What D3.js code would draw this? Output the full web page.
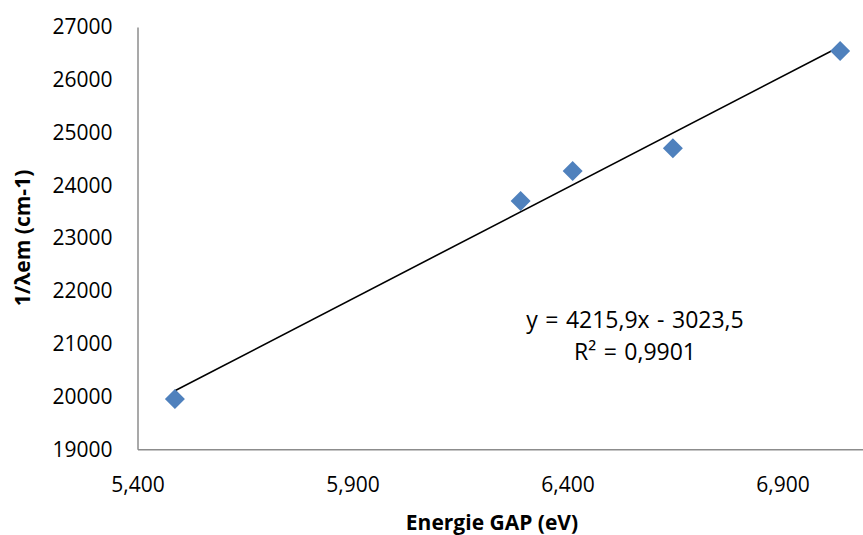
<!DOCTYPE html>
<html>
<head>
<meta charset="utf-8">
<script src="https://cdn.jsdelivr.net/npm/d3@7"></script>
<style>
  html, body { margin: 0; padding: 0; background: #fff; }
  svg { display: block; }
  text { font-family: "Open Sans", "Noto Sans", sans-serif; fill: #000; }
</style>
</head>
<body>
<div id="chart"></div>
<script>
// Data (x: energy gap in eV, y: 1/λem in cm-1)
const gapEV = [5.487, 6.291, 6.412, 6.645, 7.034];
const invLambda = [19955, 23704, 24272, 24702, 26545];
const xTicks = [5.4, 5.9, 6.4, 6.9];
const yTicks = [19000, 20000, 21000, 22000, 23000, 24000, 25000, 26000, 27000];
const slope = 4215.9, intercept = -3023.5;
const equationLines = ["y = 4215,9x - 3023,5", "R² = 0,9901"];
const xTitle = "Energie GAP (eV)";
const yTitle = "1/λem (cm-1)";

const W = 863, H = 535;
const svg = d3.select("#chart").append("svg").attr("width", W).attr("height", H);

const x = d3.scaleLinear().domain([5.4, 7.1]).range([137.5, 868.5]);
const y = d3.scaleLinear().domain([19000, 27000]).range([449.3, 27]);

const fmtX = v => d3.format(".3f")(v).replace(".", ",");

// Axes
const xAxis = svg.append("g").attr("transform", `translate(0,${y(19000)})`)
  .call(d3.axisBottom(x).tickValues(xTicks).tickFormat(fmtX).tickSize(0).tickPadding(28));
const yAxis = svg.append("g").attr("transform", `translate(${x(5.4)},0)`)
  .call(d3.axisLeft(y).tickValues(yTicks).tickFormat(d3.format("d")).tickSize(0).tickPadding(25));
[xAxis, yAxis].forEach(g => {
  g.select(".domain").attr("stroke", "#8c8c8c").attr("stroke-width", 1.5);
  g.selectAll("text").style("font-size", "21px").attr("fill", "#000")
   .style("font-family", '"Open Sans", "Noto Sans", sans-serif');
});

// Trendline
const xMin = d3.min(gapEV), xMax = d3.max(gapEV);
svg.append("line")
  .attr("x1", x(xMin)).attr("y1", y(slope * xMin + intercept))
  .attr("x2", x(xMax)).attr("y2", y(slope * xMax + intercept))
  .attr("stroke", "#000").attr("stroke-width", 1.6);

// Markers (diamonds)
const pts = gapEV.map((v, i) => [v, invLambda[i]]);
svg.append("g").selectAll("path").data(pts).join("path")
  .attr("d", d3.symbol().type(d3.symbolSquare).size(200))
  .attr("transform", d => `translate(${x(d[0])},${y(d[1])}) rotate(45)`)
  .attr("fill", "#4f81bd");

// Equation
svg.append("g").selectAll("text").data(equationLines).join("text")
  .attr("x", 635).attr("y", (d, i) => 328 + i * 32)
  .attr("text-anchor", "middle").style("font-size", "23px").style("word-spacing", "1.5px").text(d => d);

// Axis titles
svg.append("text").attr("x", 492).attr("y", 530).attr("text-anchor", "middle")
  .style("font-size", "21px").style("font-weight", "bold").text(xTitle);
svg.append("text").attr("transform", `translate(30,238) rotate(-90)`)
  .attr("text-anchor", "middle").style("font-size", "21px").style("font-weight", "bold").text(yTitle);
</script>
</body>
</html>
